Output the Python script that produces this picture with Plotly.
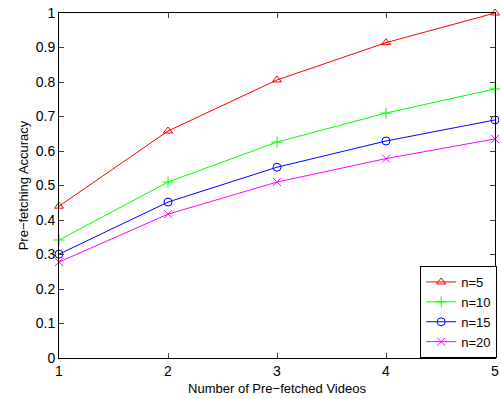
import plotly.graph_objects as go

videos = [1, 2, 3, 4, 5]
acc_n5 = [0.44, 0.658, 0.806, 0.914, 1.0]
acc_n10 = [0.342, 0.51, 0.626, 0.71, 0.78]
acc_n15 = [0.301, 0.452, 0.553, 0.629, 0.69]
acc_n20 = [0.278, 0.417, 0.51, 0.578, 0.635]
names = ["n=5", "n=10", "n=15", "n=20"]
colors = ["#ff0000", "#00ff00", "#0000ff", "#ff00ff"]
symbols = ["triangle-up-open", "cross-thin-open", "circle-open", "x-thin-open"]

fig = go.Figure()
for name, ys, c, s in zip(names, [acc_n5, acc_n10, acc_n15, acc_n20], colors, symbols):
    fig.add_trace(go.Scatter(
        x=videos, y=ys, name=name, mode="lines+markers",
        line=dict(color=c, width=1),
        marker=dict(symbol=s, size=8, color=c, line=dict(color=c, width=1)),
        cliponaxis=False,
    ))

fam = "Liberation Sans, Arial, sans-serif"
fig.update_layout(
    width=500, height=399,
    margin=dict(l=59, r=1, t=13, b=41),
    paper_bgcolor="white", plot_bgcolor="white",
    font=dict(family=fam, size=14, color="black"),
    showlegend=True,
    legend=dict(x=1.005, xanchor="right", y=0.0, yanchor="bottom",
                bordercolor="black", borderwidth=1, bgcolor="white",
                font=dict(family=fam, size=13),
                tracegroupgap=0, itemwidth=30),
)
fig.update_xaxes(
    range=[1, 5], tickvals=[1, 2, 3, 4, 5], ticks="inside", ticklen=5,
    ticklabeloverflow="allow",
    showline=True, linecolor="black", linewidth=1, mirror="ticks",
    showgrid=False, zeroline=False,
    title=dict(text="Number of Pre\u2212fetched Videos", standoff=6, font=dict(size=13)),
)
fig.update_yaxes(
    range=[0, 1], tickvals=[i / 10 for i in range(11)],
    ticktext=["0", "0.1", "0.2", "0.3", "0.4", "0.5", "0.6", "0.7", "0.8", "0.9", "1"],
    ticks="inside", ticklen=5, ticklabelstandoff=0,
    showline=True, linecolor="black", linewidth=1, mirror="ticks",
    showgrid=False, zeroline=False,
    title=dict(text="Pre\u2212fetching Accuracy", standoff=4, font=dict(size=13)),
)
fig.write_html("out.html")
